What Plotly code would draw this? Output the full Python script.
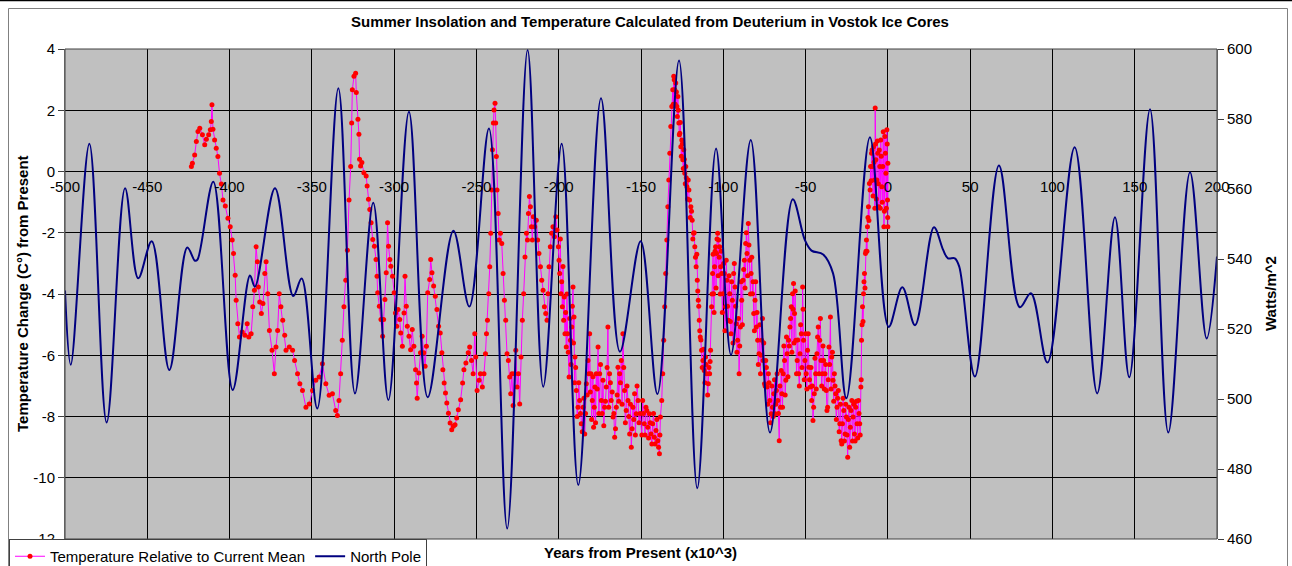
import plotly.graph_objects as go

FONT = "Liberation Sans, Arial, sans-serif"

# ---- North Pole summer insolation (W/m^2), x in kyr from present ----
ins_x = [-500, -496.5, -485.2, -474.7, -463.5, -455.5, -447.3, -436.6, -425.7, -421, -419.5,
         -409.9, -398.1, -387.6, -384.6, -372.4, -361.3, -356.2, -346.7, -333.9, -323.8,
         -312.7, -303.5, -291, -279.6, -264, -254.3, -242.4, -231.3, -218.9, -209.4,
         -198.2, -188.1, -174.3, -162.8, -150.2, -140, -126.9, -115.8, -104.4, -95.3,
         -83.3, -71.6, -57.8, -50.4, -46.4, -39.3, -33.3, -25.2, -10.9, 0.5, 8.8, 16.5,
         28, 33.6, 36.5, 40.7, 43.4, 52.9, 67.5, 80.2, 86.9, 97, 113.5, 127.2, 138,
         146.7, 159.3, 170.4, 183.6, 193.7, 200]
ins_w = [531, 509.8, 572.9, 493.3, 560.2, 534.5, 545.1, 508.3, 543.3, 539.5, 539.8,
         562.1, 502.6, 535.3, 532.1, 560.2, 529.4, 534.4, 497.3, 588.8, 501.6,
         556.1, 499.7, 582.1, 500.5, 548.1, 526.4, 577.3, 463.0, 599.7, 503.5,
         572.9, 475.4, 585.9, 513.5, 545.1, 501.4, 596.7, 474.5, 571.6, 512.6,
         574.0, 490.4, 557.1, 545.4, 542.4, 541.3, 535.9, 500.2, 574.8, 520.6, 531.9, 521.1,
         549.1, 542.6, 540.2, 540.2, 537.8, 506.4, 566.7, 526.2, 530.2, 510.4, 571.9, 501.6, 551.9,
         506.2, 582.8, 490.4, 564.8, 517.3, 540.7]

# ---- Vostok deuterium temperature relative to current mean (deg C) ----
temp_x = [-423.2, -422.6, -421.2, -420.2, -419.2, -418.1, -416.5, -415.1, -414.1, -412.7,
          -411.7, -411.1, -410.7, -410.1, -409.1, -408.1, -407.1, -406.1, -405.0, -404.0,
          -402.6, -401.0, -399.6, -398.4, -397.6, -396.6, -396.0, -395.0, -394.0, -392.3,
          -390.7, -389.3, -388.3, -386.9, -385.9, -384.9, -383.9, -383.1, -382.5, -381.7,
          -380.7, -379.7, -378.6, -377.8, -376.8, -375.8, -374.2, -372.8, -371.8, -370.8,
          -369.8, -368.8, -367.7, -366.5, -365.7, -363.7, -361.7, -360.5, -358.7, -357.3,
          -355.7, -353.6, -351.6, -349.6, -347.6, -345.6, -343.6, -341.5, -339.5, -337.5,
          -335.5, -334.5, -333.5, -332.5, -331.5, -330.5, -329.4, -328.4, -327.4, -326.4,
          -325.8, -325.4, -324.4, -323.4, -323.0, -322.0, -321.4, -321.0, -320.4, -319.6,
          -318.4, -317.0, -316.4, -315.6, -314.8, -314.0, -313.0, -312.0, -311.0, -310.4,
          -310.0, -309.0, -308.0, -307.0, -306.4, -305.6, -304.8, -304.0, -303.4, -302.6,
          -302.0, -301.0, -300.0, -299.2, -298.4, -297.6, -296.6, -296.0, -295.0, -294.0,
          -293.4, -292.6, -292.0, -291.0, -290.0, -289.0, -288.0, -287.0, -286.4, -286.0,
          -285.0, -284.0, -283.0, -282.0, -281.2, -280.4, -279.6, -278.4, -277.8, -277.0,
          -276.0, -275.0, -274.0, -273.0, -272.0, -271.0, -270.4, -269.6, -268.8, -268.0,
          -267.0, -266.0, -265.0, -264.0, -263.0, -262.0, -261.0, -259.6, -258.4, -257.6,
          -256.4, -255.0, -254.1, -253.0, -252.0, -251.0, -250.4, -249.6, -248.4, -247.6,
          -246.4, -245.4, -244.5, -243.9, -243.3, -242.5, -241.9, -241.3, -240.7, -240.3,
          -239.7, -239.3, -238.7, -238.3, -237.9, -237.5, -236.8, -236.2, -235.4, -234.6,
          -233.8, -233.0, -232.2, -231.4, -230.6, -229.8, -229.2, -228.4, -227.7, -226.9,
          -226.1, -225.3, -224.5, -223.7, -222.9, -222.1, -221.3, -220.5, -219.6, -219.0,
          -218.4, -217.8, -217.2, -216.6, -216.0, -215.4, -214.6, -213.6, -212.8, -212.0,
          -211.1, -210.3, -209.5, -208.7, -207.9, -207.1, -206.5, -205.9, -205.1, -204.3,
          -203.5, -202.6, -201.8, -201.0, -200.2, -199.4, -198.6, -197.8, -197.0, -196.2,
          -195.4, -194.6, -193.7, -192.9, -192.1, -191.3, -190.7, -190.1, -189.3, -188.3,
          -187.3, -186.3, -185.2, -184.2, -183.2, -182.2, -181.2, -180.4, -179.6, -178.8,
          -178.0, -177.2, -176.1, -175.1, -174.1, -173.1, -172.1, -171.1, -170.1, -169.1,
          -168.1, -167.0, -166.0, -165.0, -164.0, -163.0, -162.0, -161.0, -160.0, -159.0,
          -157.9, -156.9, -155.9, -154.9, -153.9, -152.9, -151.8, -149.0, -148.0, -147.0,
          -145.9, -144.9, -143.9, -142.9, -141.9, -140.9, -139.8, -138.8, -138.2, -137.4,
          -136.8, -136.2, -135.6, -135.0, -134.3, -133.7, -133.1, -132.5, -131.9, -131.3,
          -130.7, -130.1, -129.5, -128.9, -128.2, -127.6, -127.0, -126.4, -125.8, -125.2,
          -124.6, -124.0, -123.4, -122.8, -122.1, -121.3, -120.5, -119.7, -118.9, -118.1,
          -117.3, -116.5, -115.8, -115.2, -114.6, -114.0, -113.2, -112.4, -111.6, -110.8,
          -110.0, -109.1, -108.3, -107.7, -107.1, -106.5, -105.9, -105.3, -104.7, -104.1,
          -103.4, -102.8, -102.2, -101.6, -101.0, -100.2, -99.4, -98.6, -97.8, -96.9,
          -96.1, -95.3, -94.5, -93.7, -92.9, -92.1, -91.3, -90.4, -89.6, -88.8,
          -88.0, -87.2, -86.4, -85.6, -84.8, -83.9, -83.1, -82.3, -81.5, -80.7,
          -79.9, -79.1, -78.3, -77.4, -76.6, -75.8, -75.0, -74.2, -73.4, -72.6,
          -71.7, -70.9, -70.1, -69.3, -68.5, -67.7, -66.9, -66.0, -65.2, -64.4,
          -63.6, -62.8, -62.0, -61.2, -60.3, -59.5, -58.7, -57.9, -57.3, -56.7,
          -55.9, -55.1, -54.2, -53.4, -52.6, -51.8, -51.2, -50.4, -49.6, -48.8,
          -48.0, -47.1, -46.3, -45.5, -44.7, -43.9, -43.1, -42.3, -41.4, -40.6,
          -39.8, -39.0, -38.2, -37.4, -36.6, -35.8, -34.9, -34.1, -33.3, -32.5,
          -31.7, -30.9, -30.1, -29.2, -28.4, -27.6, -26.8, -26.0, -25.2, -24.4,
          -23.6, -22.8, -21.9, -21.1, -20.3, -19.5, -18.7, -17.9, -17.1, -16.4,
          -16.0, -15.4, -14.8, -14.2, -13.6, -13.0, -12.4, -11.8, -11.2, -10.5,
          -9.9, -9.3, -8.7, -8.1, -7.7, -7.3, -6.7, -6.1, -5.5, -4.9,
          -4.3, -3.7, -3.1, -2.4, -1.8, -1.2, -0.6, -0.2, 0.0, 0.0]
temp_y = [0.16, 0.27, 0.54, 0.98, 1.31, 1.41, 1.2, 0.87, 1.05, 1.2,
          1.36, 1.63, 2.18, 1.38, 1.03, 0.76, 0.49, -0.06, -0.41, -0.93,
          -1.13, -1.53, -1.8, -2.24, -2.68, -3.39, -4.2, -4.97, -5.4, -5.24,
          -5.35, -4.97, -5.4, -5.3, -4.42, -3.88, -2.46, -2.95, -3.77, -4.26,
          -4.64, -4.31, -3.33, -2.95, -3.99, -5.19, -5.84, -6.6, -5.73, -5.19,
          -3.99, -4.42, -4.86, -5.35, -5.84, -5.73, -5.84, -6.17, -6.6, -6.93,
          -7.15, -7.7, -7.59, -7.15, -6.82, -6.71, -6.28, -6.93, -7.31, -7.26,
          -7.8, -7.97, -7.48, -6.6, -5.51, -4.42, -3.55, -2.57, -0.93, 0.16,
          1.58, 2.67, 3.11, 3.21, 2.58, 1.71, 1.22, 0.4, 0.18, 0.29,
          -0.04, -0.15, -0.47, -0.91, -1.24, -1.67, -2.22, -2.44, -2.87, -3.42,
          -3.96, -4.4, -4.83, -5.38, -4.83, -4.18, -3.31, -1.67, -2.44, -2.87,
          -3.09, -3.42, -3.96, -4.62, -5.05, -4.51, -4.83, -5.27, -5.71, -4.62,
          -3.42, -4.4, -5.05, -5.38, -5.82, -5.16, -5.71, -6.47, -6.91, -7.4,
          -6.58, -5.92, -5.38, -5.92, -6.36, -5.71, -3.96, -3.53, -2.87, -3.31,
          -3.74, -4.07, -4.51, -5.05, -5.27, -5.92, -6.47, -6.91, -7.23, -7.56,
          -7.89, -8.21, -8.43, -8.32, -8.27, -8.05, -7.78, -7.45, -6.91, -6.47,
          -6.25, -5.92, -5.73, -6.17, -6.6, -5.3, -6.06, -7.15, -6.82, -6.6,
          -7.04, -6.6, -5.95, -5.3, -4.86, -3.99, -3.11, -2.02, -0.6, 0.71,
          1.58, 2.01, 2.23, 1.58, 0.49, -0.6, -1.37, -2.24, -2.02, -2.35,
          -3.33, -4.2, -4.86, -5.95, -6.17, -6.71, -7.26, -6.6, -7.64, -6.6,
          -5.84, -7.04, -6.6, -7.59, -6.06, -4.86, -3.99, -2.79, -2.02, -2.24,
          -1.37, -0.82, -1.15, -1.8, -2.24, -1.48, -1.8, -1.59, -2.24, -2.68,
          -3.11, -3.55, -3.88, -4.42, -4.64, -4.86, -3.99, -3.11, -2.46, -2.02,
          -1.8, -2.13, -1.48, -1.91, -2.46, -3.33, -3.99, -4.42, -4.86, -5.3,
          -5.73, -5.3, -6.71, -5.51, -5.08, -3.77, -4.75, -6.06, -7.15, -7.7,
          -7.48, -8.24, -7.7, -8.57, -6.93, -6.17, -5.3, -6.6, -7.48, -8.35,
          -7.04, -6.6, -5.73, -6.6, -7.48, -6.82, -7.7, -7.04, -5.08, -6.6,
          -7.48, -8.02, -8.68, -7.7, -6.39, -6.6, -6.17, -5.3, -7.15, -7.8,
          -7.48, -8.57, -9.0, -7.7, -7.26, -7.91, -7.48, -7.48, -8.24, -7.7,
          -8.35, -7.91, -8.57, -8.24, -8.68, -8.46, -8.79, -9.22, -8.02, -7.48,
          -6.6, -5.51, -4.42, -3.33, -2.24, -1.15, -0.28, 0.6, 1.47, 2.12,
          2.67, 3.11, 2.67, 2.89, 2.12, 2.45, 1.58, 1.25, 0.81, 1.03,
          0.38, 0.71, -0.06, 0.16, -0.5, -0.28, -0.93, -1.15, -1.59, -2.02,
          -2.46, -3.11, -3.55, -4.2, -4.86, -5.4, -5.84, -6.17, -6.5, -6.06,
          -6.6, -6.93, -6.6, -5.84, -4.42, -3.33, -3.99, -3.11, -2.46, -2.68,
          -2.02, -2.24, -2.46, -3.11, -3.33, -3.99, -3.33, -4.42, -3.55, -4.86,
          -3.99, -5.3, -4.2, -3.33, -3.77, -4.97, -5.51, -6.6, -5.08, -4.2,
          -3.55, -2.9, -2.35, -2.68, -1.7, -2.9, -3.33, -3.99, -4.64, -4.2,
          -5.08, -5.51, -5.95, -6.6, -5.51, -6.17, -6.93, -6.17, -7.04, -6.6,
          -7.48, -7.91, -7.7, -7.26, -7.91, -7.15, -7.48, -8.79, -7.7, -7.26,
          -6.6, -6.17, -6.82, -5.95, -5.51, -5.08, -4.42, -3.99, -3.66, -4.64,
          -5.51, -6.17, -6.6, -5.95, -5.3, -3.77, -5.51, -6.17, -6.6, -5.84,
          -6.39, -7.04, -7.48, -8.13, -7.26, -6.6, -5.95, -5.08, -5.51, -6.17,
          -6.6, -6.17, -6.6, -7.15, -7.7, -5.73, -4.75, -6.06, -6.82, -6.6,
          -7.26, -7.7, -7.15, -8.24, -8.79, -8.24, -7.8, -8.57, -8.02, -9.33,
          -7.7, -8.35, -7.48, -8.02, -8.57, -7.7, -8.24, -7.48, -8.24, -7.04,
          -5.51, -4.42, -3.99, -3.33, -2.68, -2.24, -1.8, -1.15, -0.39, 0.16,
          0.6, 0.16, 0.81, -0.28, 2.07, 0.38, -0.28, 0.6, -1.15, 0.16,
          1.03, -0.5, 0.16, -1.8, 1.14, -0.06, 1.36, -0.93, 0.27, -1.8]

# additional samples read in the densest parts of the record
dense_x = [-199.8, -199.0, -198.2, -197.4, -196.6, -195.8, -195.0, -194.2, -193.3, -192.5,
           -191.7, -191.0, -190.4, -189.7, -188.8, -187.8, -186.8, -185.7, -184.7, -183.7,
           -182.7, -181.7, -180.8, -180.0, -179.2, -178.4, -177.6, -176.6, -175.6, -174.6,
           -173.6, -172.6, -171.6, -170.6, -169.6, -168.6, -167.5, -166.5, -165.5, -164.5,
           -163.5, -162.5, -161.5, -160.5, -159.5, -158.5, -157.4, -156.4, -155.4, -154.4,
           -153.4, -152.4, -151.2, -150.5, -149.5, -148.5, -147.5, -146.5, -145.4, -144.4,
           -143.4, -142.4, -141.4, -140.4, -139.3, -138.5,
           -130.4, -129.8, -129.2, -128.5, -127.9, -127.3, -126.7, -126.1, -125.5, -124.9,
           -124.3, -123.7, -123.1, -122.5, -121.7, -120.9, -120.1, -119.3, -118.5, -117.7,
           -116.9, -116.1, -115.5, -114.9, -114.3, -113.6, -112.8, -112.0, -111.2, -110.4,
           -109.5, -108.7, -108.0,
           -106.8, -106.2, -105.6, -105.0, -104.4, -103.8, -103.1, -102.5, -101.9, -101.3,
           -100.6, -99.8, -99.0, -98.2, -97.4, -96.5, -95.7, -94.9, -94.1, -93.3,
           -92.5, -91.7, -90.8, -90.0, -89.2, -88.4, -87.6, -86.8, -86.0, -85.2,
           -84.4, -83.5, -82.7, -81.9, -81.1, -80.3, -79.5, -78.7, -77.8, -77.0,
           -76.2, -75.4, -74.6, -73.8, -73.0, -72.2, -71.3, -70.5, -69.7, -68.9,
           -68.1, -67.3, -66.5, -65.6, -64.8, -64.0, -63.2, -62.4, -61.6, -60.7,
           -59.9, -59.1, -58.3, -57.6, -57.0, -56.3, -55.5, -54.7, -53.8, -53.0,
           -52.2, -51.5, -50.8, -50.0, -49.2, -48.4, -47.6, -46.7, -45.9, -45.1,
           -44.3, -43.5, -42.7, -41.8, -41.0, -40.2, -39.4, -38.6, -37.8, -37.0,
           -36.2, -35.4, -34.5, -33.7, -32.9, -32.1, -31.3, -30.5, -29.6, -28.8,
           -28.0, -27.2, -26.4, -25.6, -24.8, -24.0, -23.2, -22.4, -21.5, -20.7,
           -19.9, -19.1, -18.3, -17.5, -16.8, -16.2, -15.7, -15.1, -14.5, -13.9,
           -13.3, -12.7, -12.1, -11.5, -10.8, -10.2, -9.6, -9.0, -8.4, -7.9,
           -7.5, -7.0, -6.4, -5.8, -5.2, -4.6, -4.0, -3.4, -2.8, -2.1,
           -1.5, -0.9, -0.4, -0.1]
dense_y = [-2.9, -2.2, -3.6, -3.1, -4.1, -4.6, -4.0, -5.9, -4.8, -6.3,
           -4.4, -5.6, -6.9, -6.4, -8.0, -6.9, -7.9, -8.5, -7.4, -7.9,
           -7.3, -6.6, -7.2, -8.1, -6.7, -7.7, -8.2, -7.1, -7.9, -6.3,
           -7.9, -8.3, -7.5, -6.4, -7.7, -6.9, -7.2, -7.9, -8.4, -7.3,
           -7.5, -6.9, -7.6, -6.4, -8.2, -7.0, -8.0, -7.6, -8.4, -8.1,
           -8.6, -7.0, -8.2, -7.9, -8.6, -7.9, -8.6, -7.8, -8.7, -8.2,
           -8.9, -7.9, -8.9, -8.1, -9.0, -8.6,
           2.2, 3.0, 2.2, 2.6, 1.8, 2.0, 1.2, 1.6, 0.5, 0.9,
           0.1, 0.4, -0.4, -0.2, -0.9, -0.6, -1.5, -1.3, -2.2, -2.0,
           -2.8, -2.7, -3.9, -4.4, -5.2, -5.5, -6.4, -5.8, -6.9, -6.3,
           -7.3, -6.4, -6.2,
           -4.0, -2.7, -4.6, -2.6, -3.8, -2.2, -3.4, -2.8, -4.0, -2.6,
           -4.6, -3.0, -5.2, -2.9, -4.4, -3.4, -4.9, -3.6, -5.6, -3.0,
           -4.4, -5.9, -4.8, -5.7, -3.6, -5.0, -3.2, -3.8, -2.0, -3.4,
           -2.4, -4.0, -2.8, -3.6, -5.2, -3.6, -4.6, -6.3, -5.0, -6.0,
           -4.8, -5.6, -7.0, -6.4, -7.6, -6.9, -8.2, -7.0, -8.0, -6.8,
           -7.6, -6.6, -7.9, -7.0, -6.5, -7.7, -5.7, -7.3, -5.4, -6.7,
           -5.7, -4.8, -5.9, -4.5, -5.6, -3.9, -6.6, -5.5, -7.0, -5.0,
           -6.4, -4.5, -6.8, -5.3, -7.1, -5.3, -6.8, -6.4, -7.0, -7.7,
           -6.1, -7.1, -5.4, -6.6, -4.8, -7.0, -5.7, -7.1, -6.3, -7.8,
           -6.8, -6.3, -7.1, -5.9, -7.5, -7.0, -8.1, -7.4, -8.5, -7.6,
           -8.9, -7.4, -8.8, -7.6, -8.6, -8.1, -9.0, -7.8, -8.8, -7.6,
           -8.8, -7.5, -8.7, -7.9, -8.6, -6.8, -5.0, -4.9, -3.6, -3.8,
           -2.6, -2.6, -1.5, -1.6, -0.6, -0.3, 0.7, -0.8, 0.3, -1.2,
           0.9, -0.9, 1.0, -0.4, 0.7, -1.2, 0.5, -1.0, 1.3, -1.3,
           0.6, -1.2, 0.9, -1.5]

# merge both sets of samples in time order
pairs = sorted(zip(temp_x + dense_x, temp_y + dense_y), key=lambda p: p[0])
all_x = [p[0] for p in pairs]
all_y = [p[1] for p in pairs]

x_ticks = list(range(-500, 201, 50))
y_left_ticks = list(range(-12, 5, 2))
y_right_ticks = list(range(460, 601, 20))

fig = go.Figure()
fig.add_trace(go.Scatter(
    x=all_x, y=all_y, mode="lines+markers",
    name="Temperature Relative to Current Mean",
    line=dict(color="#FF00FF", width=1),
    marker=dict(color="#FF0000", size=5, symbol="circle", line=dict(width=0)),
    xaxis="x", yaxis="y",
))
fig.add_trace(go.Scatter(
    x=ins_x, y=ins_w, mode="lines", name="North Pole",
    line=dict(color="#000080", width=2, shape="spline", smoothing=1.0),
    xaxis="x", yaxis="y2",
))

tickfont = dict(family=FONT, size=15, color="black")

fig.update_layout(
    width=1292, height=566,
    margin=dict(l=65, r=75, t=49, b=27, autoexpand=False),
    paper_bgcolor="white", plot_bgcolor="#C0C0C0",
    font=dict(family=FONT, size=15, color="black"),
    showlegend=True,
    title=dict(text="<b>Summer Insolation and Temperature Calculated from Deuterium in Vostok Ice Cores</b>",
               x=650 / 1292, xref="container", xanchor="center",
               y=1 - 22 / 566, yref="container", yanchor="middle",
               font=dict(family=FONT, size=15, color="black")),
    xaxis=dict(range=[-500, 200], tickvals=x_ticks, ticktext=[str(v) for v in x_ticks],
               showgrid=True, gridcolor="black", gridwidth=1, zeroline=False,
               anchor="free", position=0.75, ticks="", showline=False,
               tickfont=tickfont, ticklabelstandoff=4),
    yaxis=dict(range=[-12, 4], tickvals=y_left_ticks, ticktext=[str(v) for v in y_left_ticks],
               showgrid=True, gridcolor="black", gridwidth=1, zeroline=False,
               showline=True, linecolor="#808080", linewidth=1,
               ticks="outside", ticklen=6, tickcolor="#404040", tickfont=tickfont),
    yaxis2=dict(range=[460, 600], tickvals=y_right_ticks, ticktext=[str(v) for v in y_right_ticks],
                overlaying="y", side="right", anchor="x",
                showgrid=False, zeroline=False,
                showline=True, linecolor="#808080", linewidth=1,
                ticks="outside", ticklen=6, tickcolor="#404040", tickfont=tickfont),
    legend=dict(orientation="h", x=(9 - 65) / 1152, y=(539 - 539) / 490,
                xanchor="left", yanchor="top",
                bgcolor="white", bordercolor="#404040", borderwidth=1,
                font=dict(family=FONT, size=15, color="black"),
                itemwidth=30, tracegroupgap=0),
    annotations=[
        dict(text="<b>Temperature Change (C°) from Present</b>", textangle=-90,
             xref="paper", yref="paper", x=(22 - 65) / 1152, y=0.5,
             xanchor="center", yanchor="middle", showarrow=False,
             font=dict(family=FONT, size=15, color="black")),
        dict(text="<b>Watts/m^2</b>", textangle=-90,
             xref="paper", yref="paper", x=(1270 - 65) / 1152, y=0.5,
             xanchor="center", yanchor="middle", showarrow=False,
             font=dict(family=FONT, size=15, color="black")),
        dict(text="<b>Years from Present (x10^3)</b>",
             xref="paper", yref="paper", x=(640 - 65) / 1152, y=(539 - 552) / 490,
             xanchor="center", yanchor="middle", showarrow=False,
             font=dict(family=FONT, size=15, color="black")),
    ],
    shapes=[
        dict(type="rect", xref="paper", yref="paper", x0=0, x1=1, y0=0, y1=1,
             line=dict(color="#404040", width=1), layer="above"),
        dict(type="rect", xref="paper", yref="paper",
             x0=(8.5 - 65) / 1152, x1=(1287.5 - 65) / 1152,
             y0=(539 - 580) / 490, y1=(539 - 8.5) / 490,
             line=dict(color="#808080", width=1), layer="below"),
        dict(type="line", xref="paper", yref="paper",
             x0=(0 - 65) / 1152, x1=(1292 - 65) / 1152,
             y0=(539 - 0.5) / 490, y1=(539 - 0.5) / 490,
             line=dict(color="black", width=1.5)),
    ],
)

fig.write_html(
    "out.html",
    config={"displayModeBar": False},
    post_script="document.body.style.margin='0';document.body.style.overflow='hidden';",
)
